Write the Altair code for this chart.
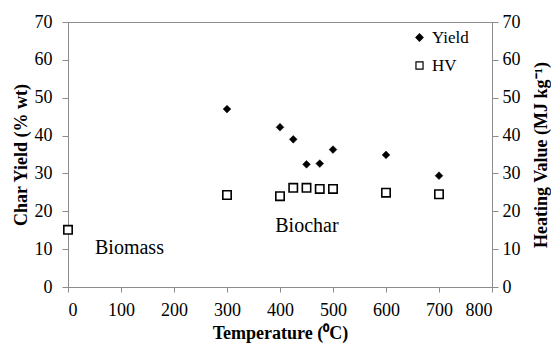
import altair as alt
import pandas as pd

# Data
yield_temp = [300, 400, 425, 450, 475, 500, 600, 700]
yield_vals = [47.0, 42.2, 39.0, 32.4, 32.6, 36.3, 34.9, 29.4]
hv_temp = [0, 300, 400, 425, 450, 475, 500, 600, 700]
hv_vals = [15.1, 24.3, 24.0, 26.2, 26.2, 25.9, 25.9, 24.9, 24.5]
x_ticks = [0, 100, 200, 300, 400, 500, 600, 700, 800]
y_ticks = [0, 10, 20, 30, 40, 50, 60, 70]
notes = ["Biomass", "Biochar"]
note_x = [51, 391]
note_y = [10.3, 16.1]

FONT = "Liberation Serif"
GRAY = "#8c8c8c"

df_y = pd.DataFrame({"T": yield_temp, "v": yield_vals, "series": "Yield"})
df_h = pd.DataFrame({"T": hv_temp, "v": hv_vals, "series": "HV"})
df_n = pd.DataFrame({"T": note_x, "v": note_y, "label": notes})

xenc = alt.X("T:Q", scale=alt.Scale(domain=[0, 800], nice=False),
             axis=alt.Axis(values=x_ticks, title="Temperature (⁰C)", grid=False,
                           tickSize=5, labelPadding=9, titlePadding=5,
                           labelOverlap=False))

shape_scale = alt.Scale(domain=["Yield", "HV"], range=["diamond", "square"])
fill_scale = alt.Scale(domain=["Yield", "HV"], range=["black", "white"])
stroke_scale = alt.Scale(domain=["Yield", "HV"], range=["black", "black"])
legend = alt.Legend(title=None, orient="none", legendX=343, legendY=7,
                    labelFontSize=17, symbolSize=50, rowPadding=10,
                    symbolStrokeWidth=1.2, symbolOpacity=1)

yleft = alt.Y("v:Q", scale=alt.Scale(domain=[0, 70], nice=False),
              axis=alt.Axis(values=y_ticks, title="Char Yield (% wt)", grid=False,
                            tickSize=6, labelPadding=10, titlePadding=4,
                            labelOverlap=False))

pts_y = alt.Chart(df_y).mark_point(filled=True, size=60, strokeWidth=0.5,
                                   opacity=1).encode(
    x=xenc, y=yleft,
    shape=alt.Shape("series:N", scale=shape_scale, legend=legend),
    fill=alt.Fill("series:N", scale=fill_scale, legend=legend),
    stroke=alt.Stroke("series:N", scale=stroke_scale, legend=legend),
)

notes_layer = alt.Chart(df_n).mark_text(font=FONT, fontSize=20, align="left",
                                        baseline="middle", color="black").encode(
    x=xenc, y=yleft, text="label:N")

left = alt.layer(pts_y, notes_layer)

yright = alt.Y("v:Q", scale=alt.Scale(domain=[0, 70], nice=False),
               axis=alt.Axis(values=y_ticks, orient="right",
                             title="Heating Value (MJ kg⁻¹)", grid=False,
                             tickSize=6, labelPadding=4, titlePadding=12,
                             titleAngle=270, titleBaseline="top",
                             labelOverlap=False))

pts_h = alt.Chart(df_h).mark_point(filled=True, size=70, strokeWidth=1.6,
                                   opacity=1).encode(
    x=xenc, y=yright,
    shape=alt.Shape("series:N", scale=shape_scale, legend=legend),
    fill=alt.Fill("series:N", scale=fill_scale, legend=legend),
    stroke=alt.Stroke("series:N", scale=stroke_scale, legend=legend),
)

chart = alt.layer(left, pts_h).resolve_scale(y="independent").properties(
    width=424, height=265,
    autosize=alt.AutoSizeParams(type="none"),
    padding={"left": 68, "top": 22, "right": 59, "bottom": 59},
).configure_view(stroke=GRAY, strokeWidth=1).configure_axis(
    domainColor=GRAY, tickColor=GRAY, labelFont=FONT, titleFont=FONT,
    labelFontSize=18, titleFontSize=18, titleFontWeight="bold",
    labelColor="black", titleColor="black",
).configure_legend(labelFont=FONT, labelColor="black")

chart.save("out.html", embed_options={"renderer": "svg", "actions": False})
